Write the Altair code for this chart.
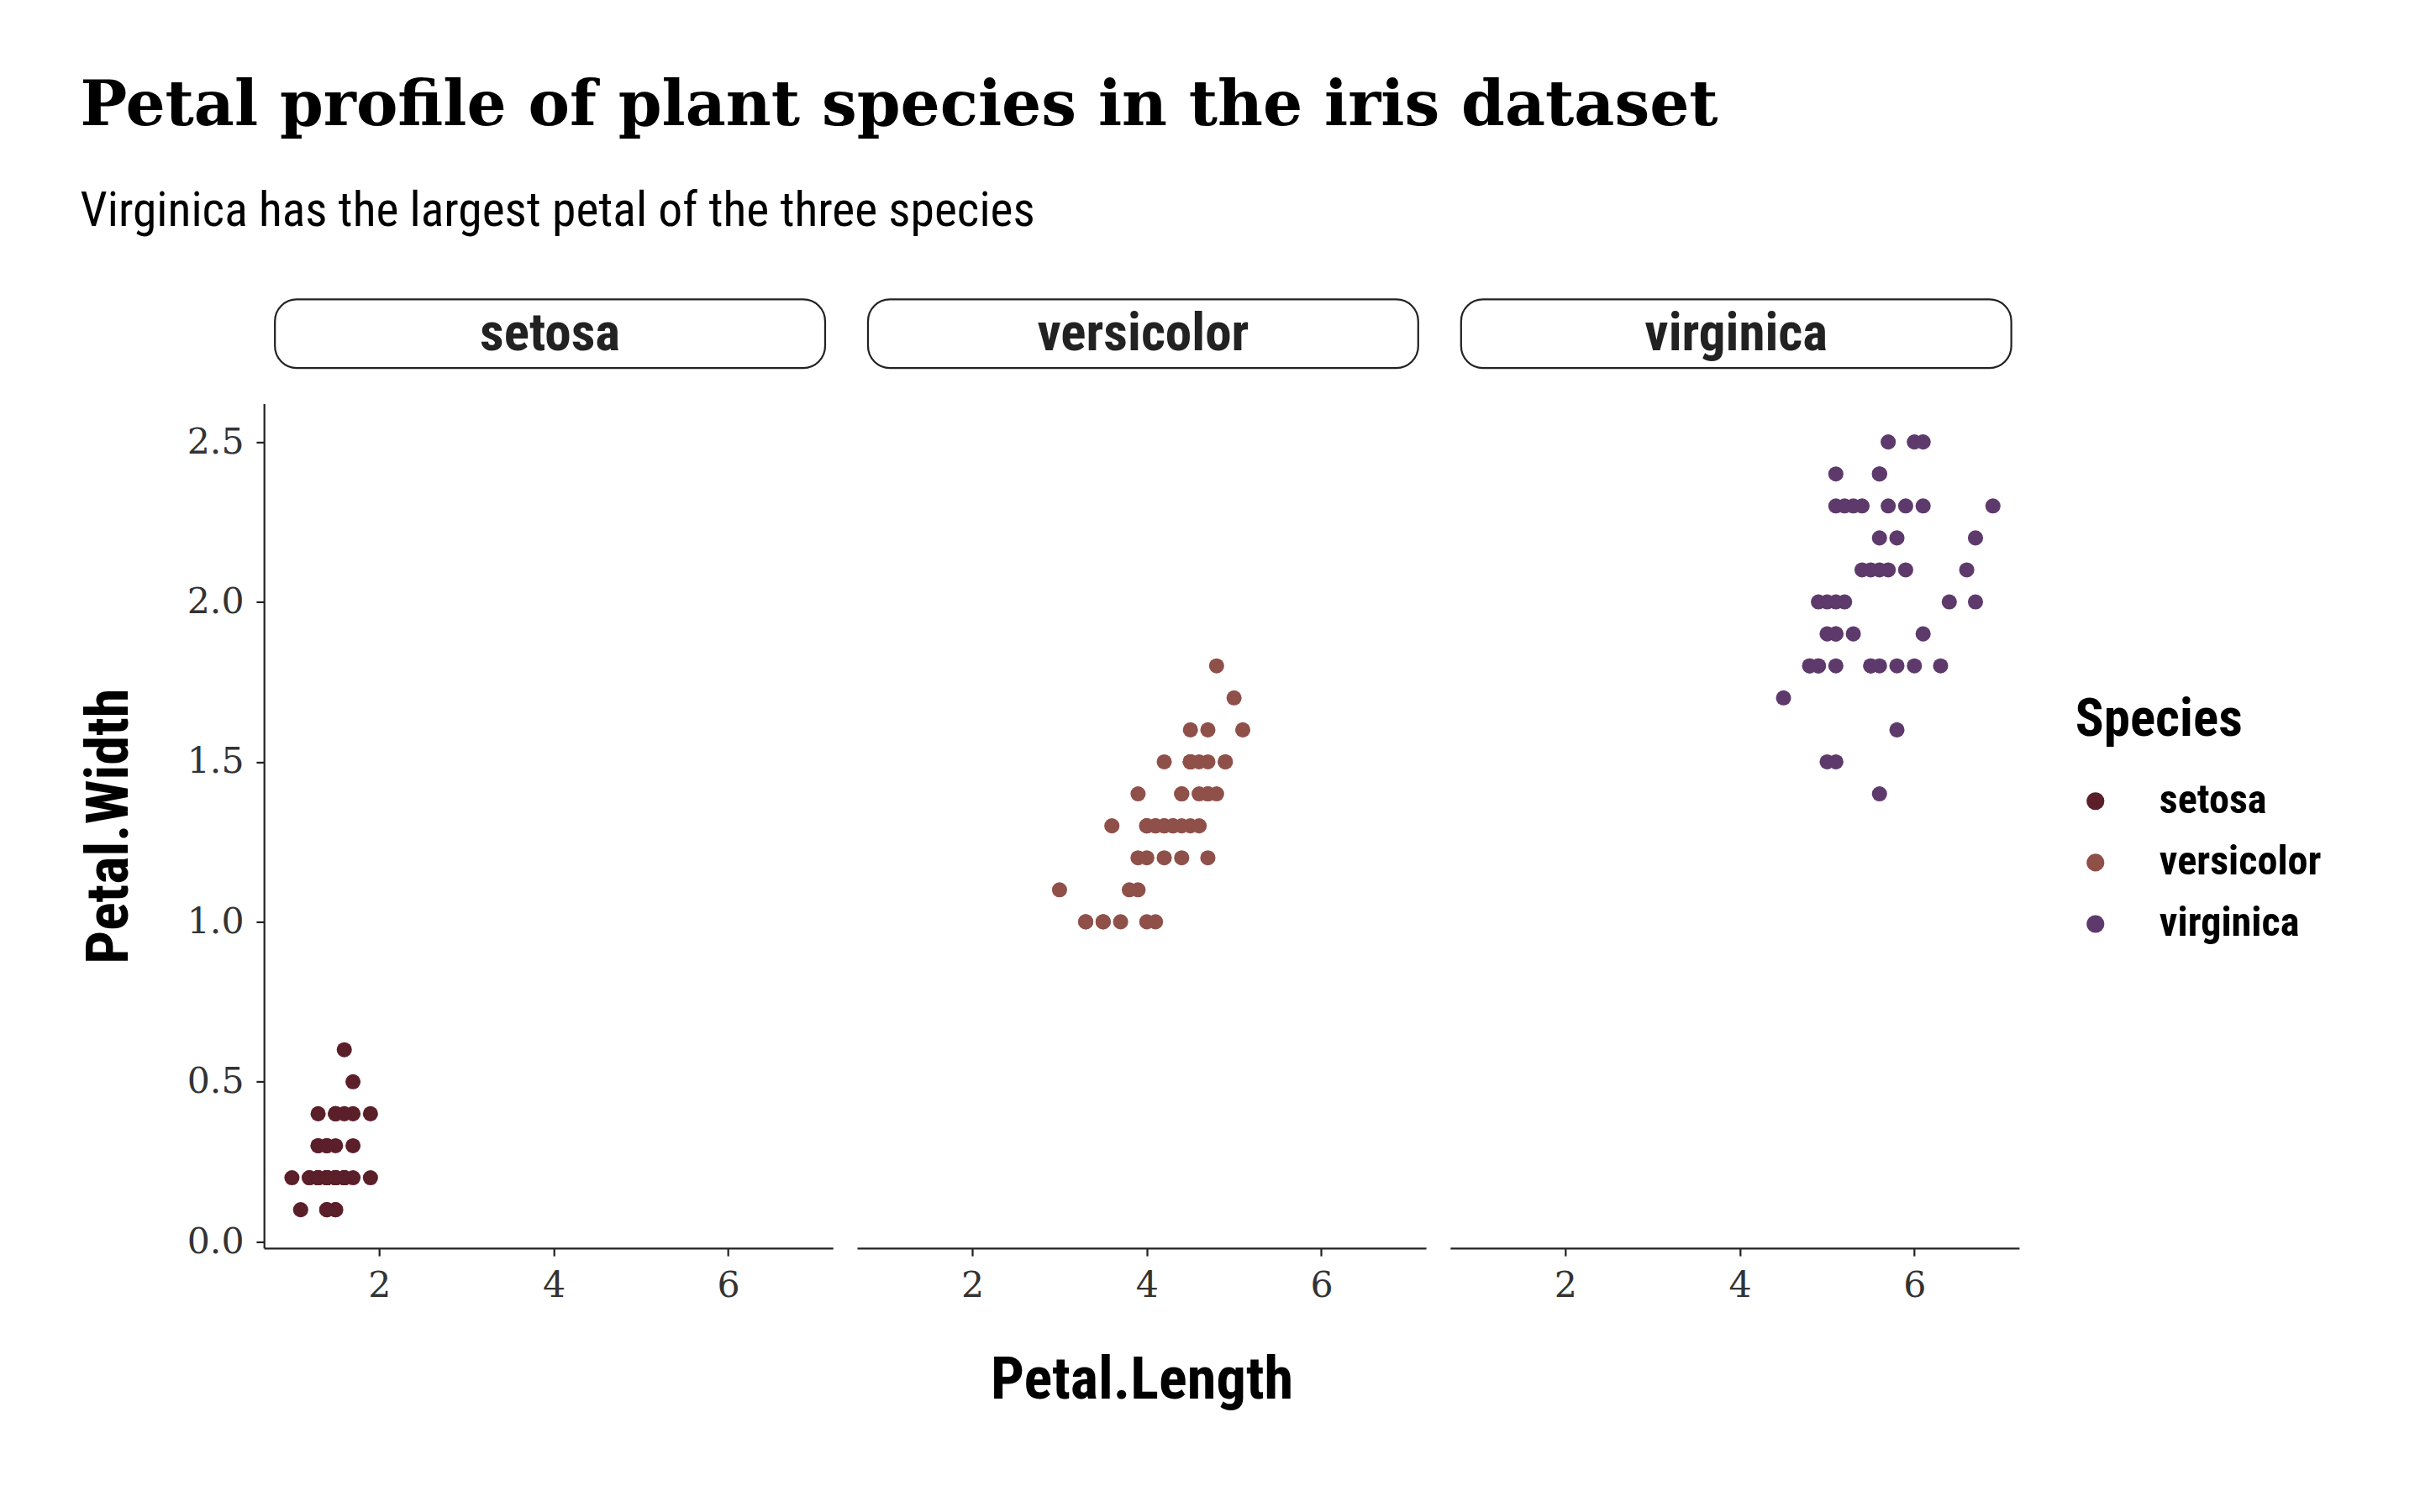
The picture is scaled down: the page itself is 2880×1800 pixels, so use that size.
import altair as alt
import pandas as pd

S = 1.855  # display-to-page scale

species = ["setosa", "versicolor", "virginica"]
colors = ["#5b1f2a", "#8f5049", "#5e3a6c"]

setosa_len = [1.4, 1.4, 1.3, 1.5, 1.4, 1.7, 1.4, 1.5, 1.4, 1.5, 1.5, 1.6, 1.4, 1.1, 1.2, 1.5, 1.3, 1.4, 1.7, 1.5,
              1.7, 1.5, 1.0, 1.7, 1.9, 1.6, 1.6, 1.5, 1.4, 1.6, 1.6, 1.5, 1.5, 1.4, 1.5, 1.2, 1.3, 1.4, 1.3, 1.5,
              1.3, 1.3, 1.3, 1.6, 1.9, 1.4, 1.6, 1.4, 1.5, 1.4]
setosa_wid = [0.2, 0.2, 0.2, 0.2, 0.2, 0.4, 0.3, 0.2, 0.2, 0.1, 0.2, 0.2, 0.1, 0.1, 0.2, 0.4, 0.4, 0.3, 0.3, 0.3,
              0.2, 0.4, 0.2, 0.5, 0.2, 0.2, 0.4, 0.2, 0.2, 0.2, 0.2, 0.4, 0.1, 0.2, 0.2, 0.2, 0.2, 0.1, 0.2, 0.2,
              0.3, 0.3, 0.2, 0.6, 0.4, 0.3, 0.2, 0.2, 0.2, 0.2]
versi_len = [4.7, 4.5, 4.9, 4.0, 4.6, 4.5, 4.7, 3.3, 4.6, 3.9, 3.5, 4.2, 4.0, 4.7, 3.6, 4.4, 4.5, 4.1, 4.5, 3.9,
             4.8, 4.0, 4.9, 4.7, 4.3, 4.4, 4.8, 5.0, 4.5, 3.5, 3.8, 3.7, 3.9, 5.1, 4.5, 4.5, 4.7, 4.4, 4.1, 4.0,
             4.4, 4.6, 4.0, 3.3, 4.2, 4.2, 4.2, 4.3, 3.0, 4.1]
versi_wid = [1.4, 1.5, 1.5, 1.3, 1.5, 1.3, 1.6, 1.0, 1.3, 1.4, 1.0, 1.5, 1.0, 1.4, 1.3, 1.4, 1.5, 1.0, 1.5, 1.1,
             1.8, 1.3, 1.5, 1.2, 1.3, 1.4, 1.4, 1.7, 1.5, 1.0, 1.1, 1.0, 1.2, 1.6, 1.5, 1.6, 1.5, 1.3, 1.3, 1.3,
             1.2, 1.4, 1.2, 1.0, 1.3, 1.2, 1.3, 1.3, 1.1, 1.3]
virg_len = [6.0, 5.1, 5.9, 5.6, 5.8, 6.6, 4.5, 6.3, 5.8, 6.1, 5.1, 5.3, 5.5, 5.0, 5.1, 5.3, 5.5, 6.7, 6.9, 5.0,
            5.7, 4.9, 6.7, 4.9, 5.7, 6.0, 4.8, 4.9, 5.6, 5.8, 6.1, 6.4, 5.6, 5.1, 5.6, 6.1, 5.6, 5.5, 4.8, 5.4,
            5.6, 5.1, 5.1, 5.9, 5.7, 5.2, 5.0, 5.2, 5.4, 5.1]
virg_wid = [2.5, 1.9, 2.1, 1.8, 2.2, 2.1, 1.7, 1.8, 1.8, 2.5, 2.0, 1.9, 2.1, 2.0, 2.4, 2.3, 1.8, 2.2, 2.3, 1.5,
            2.3, 2.0, 2.0, 1.8, 2.1, 1.8, 1.8, 1.8, 2.1, 1.6, 1.9, 2.0, 2.2, 1.5, 1.4, 2.3, 2.4, 1.8, 1.8, 2.1,
            2.4, 2.3, 1.9, 2.3, 2.5, 2.3, 1.9, 2.0, 2.3, 1.8]

# no dots in field names: Vega-Lite reads them as nested access
df = pd.DataFrame({
    "PetalLength": setosa_len + versi_len + virg_len,
    "PetalWidth": setosa_wid + versi_wid + virg_wid,
    "Species": ["setosa"] * 50 + ["versicolor"] * 50 + ["virginica"] * 50,
})

COND = "Liberation Sans Narrow, Roboto Condensed, Roboto"
SERIF = "DejaVu Serif"
PW, PH = 365 * S, 542 * S
HW, HH = 353 * S, 45 * S

color = alt.Color("Species:N", scale=alt.Scale(domain=species, range=colors),
                  legend=alt.Legend(title="Species", titleFont=COND, titleFontSize=34 * S,
                                    titleFontWeight="bold", titleColor="black", titleLimit=0,
                                    labelFont=COND, labelFontSize=26 * S, labelFontWeight="bold",
                                    labelColor="black", labelLimit=0, symbolSize=130 * S * S,
                                    symbolType="circle", rowPadding=13 * S, labelOffset=28 * S,
                                    titlePadding=22 * S, symbolStrokeWidth=0, orient="none",
                                    legendX=(1337 - 175) * S, legendY=(456 - 202) * S))


def panel(i, sp):
    header = alt.layer(
        alt.Chart(pd.DataFrame({"s": [sp]})).mark_rect(
            fill="white", stroke="#222", strokeWidth=1.2 * S, cornerRadius=14 * S
        ).encode(x=alt.value(7 * S), x2=alt.value(7 * S + HW), y=alt.value(1 * S), y2=alt.value(HH)),
        alt.Chart(pd.DataFrame({"s": [sp]})).mark_text(
            font=COND, fontSize=34 * S, fontWeight="bold", color="#222", baseline="middle"
        ).encode(text="s:N", x=alt.value(7 * S + HW / 2), y=alt.value(HH / 2 + 1 * S)),
    ).properties(width=PW, height=HH)

    xtitle = "Petal.Length" if i == 1 else ""
    yaxis = alt.Axis(title="Petal.Width", values=[0, 0.5, 1, 1.5, 2, 2.5], format=".1f",
                     grid=False) if i == 0 else None
    pts = alt.Chart(df[df["Species"] == sp]).mark_circle(size=95 * S * S, opacity=1).encode(
        x=alt.X("PetalLength:Q", scale=alt.Scale(domain=[0.68, 7.2], nice=False, zero=False),
                axis=alt.Axis(title=xtitle, values=[2, 4, 6], grid=False)),
        y=alt.Y("PetalWidth:Q", scale=alt.Scale(domain=[-0.02, 2.62], nice=False), axis=yaxis),
        color=color,
    ).properties(width=PW, height=PH)
    return alt.vconcat(header, pts, spacing=22 * S)


chart = alt.hconcat(*[panel(i, sp) for i, sp in enumerate(species)], spacing=15 * S).properties(
    title=alt.TitleParams(
        "Petal profile of plant species in the iris dataset",
        subtitle="Virginica has the largest petal of the three species",
        font=SERIF, fontSize=40 * S, fontWeight="bold", color="black",
        subtitleFont=COND, subtitleFontSize=31 * S, subtitleColor="black",
        subtitlePadding=32 * S, anchor="start", offset=40 * S,
    ),
    padding={"left": 47 * S, "top": 44 * S, "right": 40 * S, "bottom": 30 * S},
).configure_view(stroke=None).configure_axis(
    domainColor="#222", domainWidth=1.2 * S, tickColor="#222", tickWidth=1.2 * S, tickSize=5 * S,
    labelFont=SERIF, labelFontSize=23 * S, labelColor="#333", labelPadding=8 * S,
    titleFont=COND, titleFontSize=38 * S, titleFontWeight="bold", titleColor="black",
    titlePadding=30 * S,
).configure_concat(spacing=15 * S)

chart.save("out.html", embed_options={"renderer": "svg", "actions": False})
